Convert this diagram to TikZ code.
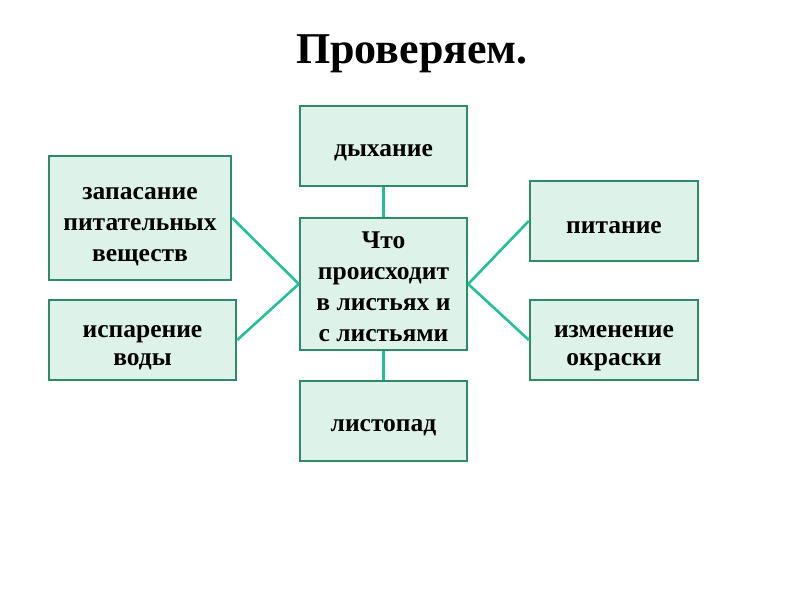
\documentclass[tikz,border=0pt]{standalone}
\usepackage{fontspec}
\setmainfont{Liberation Serif}
\definecolor{boxfill}{HTML}{DDF2E8}
\definecolor{boxline}{HTML}{2E8B6A}
\definecolor{conn}{HTML}{22BF98}
\begin{document}
\begin{tikzpicture}[x=1pt,y=-1pt,
  box/.style={draw=boxline,line width=2.4pt,fill=boxfill,inner sep=0pt},
  lbl/.style={align=center,inner sep=0pt,
    font=\fontsize{25.5}{31}\selectfont\bfseries},
  link/.style={draw=conn,line width=2.6pt}]
\useasboundingbox (0,0) rectangle (800,600);
\node[font=\fontsize{44}{50}\selectfont\bfseries] (title) at (412,54) {Проверяем.};
\draw[link] (383.5,146) coordinate (dyhc) -- (383.5,421) coordinate (listc);
\node[box,minimum width=167pt,minimum height=80pt] (dyh) at (dyhc) {};
\node[box,minimum width=167pt,minimum height=80pt] (list) at (listc) {};
\node[box,minimum width=167pt,minimum height=132pt] (c) at (383.5,284) {};
\node[box,minimum width=182pt,minimum height=124pt] (zap) at (140,218) {};
\node[box,minimum width=187pt,minimum height=80pt] (isp) at (142.5,340) {};
\node[box,minimum width=168pt,minimum height=80pt] (pit) at (614,221) {};
\node[box,minimum width=168pt,minimum height=80pt] (izm) at (614,340) {};
\node[lbl] (dyh-t) at ([yshift=-6.5pt]dyh.center) {дыхание};
\node[lbl] (list-t) at ([yshift=-7pt]list.center) {листопад};
\node[lbl] (c-t) at ([yshift=-3pt]c.center) {Что\\происходит\\в листьях и\\с листьями};
\node[lbl] (zap-t) at ([yshift=-9pt]zap.center) {запасание\\питательных\\веществ};
\node[lbl,font=\fontsize{25.5}{28}\selectfont\bfseries] (isp-t) at ([yshift=-8pt]isp.center) {испарение\\воды};
\node[lbl] (pit-t) at ([yshift=-7pt]pit.center) {питание};
\node[lbl,font=\fontsize{25.5}{28}\selectfont\bfseries] (izm-t) at ([yshift=-8pt]izm.center) {изменение\\окраски};
\draw[link] (zap.east) -- (c.west);
\draw[link] (isp.east) -- (c.west);
\draw[link] (c.east) -- (pit.west);
\draw[link] (c.east) -- (izm.west);
\end{tikzpicture}
\end{document}
